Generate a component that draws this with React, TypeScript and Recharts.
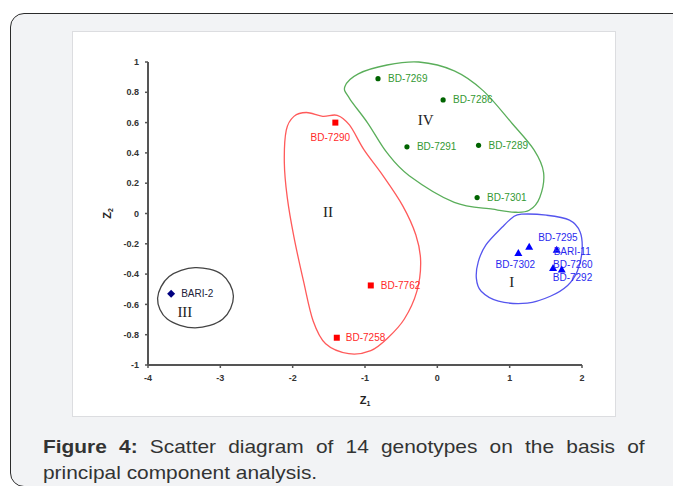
import { ScatterChart, Scatter, XAxis, YAxis } from 'recharts'

// Principal component scores (Z1, Z2) of the 14 genotypes
const cluster1 = [
  { name: 'BD-7302', z1: 1.12, z2: -0.26 },
  { name: 'BD-7295', z1: 1.27, z2: -0.22 },
  { name: 'BARI-11', z1: 1.65, z2: -0.24 },
  { name: 'BD-7260', z1: 1.6, z2: -0.36 },
  { name: 'BD-7292', z1: 1.72, z2: -0.37 },
]
const cluster2 = [
  { name: 'BD-7290', z1: -1.41, z2: 0.6 },
  { name: 'BD-7762', z1: -0.92, z2: -0.475 },
  { name: 'BD-7258', z1: -1.39, z2: -0.82 },
]
const cluster3 = [{ name: 'BARI-2', z1: -3.68, z2: -0.53 }]
const cluster4 = [
  { name: 'BD-7269', z1: -0.82, z2: 0.89 },
  { name: 'BD-7286', z1: 0.08, z2: 0.75 },
  { name: 'BD-7291', z1: -0.42, z2: 0.44 },
  { name: 'BD-7289', z1: 0.57, z2: 0.45 },
  { name: 'BD-7301', z1: 0.55, z2: 0.105 },
]

// cluster numerals
const clusterNames = [
  { name: 'I', z1: 1.03, z2: -0.455 },
  { name: 'II', z1: -1.51, z2: 0.013 },
  { name: 'III', z1: -3.49, z2: -0.647 },
  { name: 'IV', z1: -0.16, z2: 0.614 },
]

// hand drawn cluster outlines, vertices in data units
const outline1 = [
  { z1: 1.378, z2: 0.007 }, { z1: 1.738, z2: 0 }, { z1: 2.069, z2: -0.033 },
  { z1: 2.222, z2: -0.112 }, { z1: 2.249, z2: -0.244 }, { z1: 2.18, z2: -0.376 },
  { z1: 2.042, z2: -0.469 }, { z1: 1.793, z2: -0.541 }, { z1: 1.461, z2: -0.587 },
  { z1: 1.046, z2: -0.574 }, { z1: 0.797, z2: -0.508 }, { z1: 0.728, z2: -0.422 },
  { z1: 0.756, z2: -0.31 }, { z1: 0.866, z2: -0.198 }, { z1: 1.102, z2: -0.079 },
  { z1: 1.254, z2: -0.013 },
]
const outline2 = [
  { z1: -1.899, z2: 0.66 }, { z1: -1.719, z2: 0.686 }, { z1: -1.484, z2: 0.66 },
  { z1: -1.276, z2: 0.667 }, { z1: -1.097, z2: 0.601 }, { z1: -0.889, z2: 0.436 },
  { z1: -0.627, z2: 0.271 }, { z1: -0.336, z2: 0.066 }, { z1: -0.143, z2: -0.132 },
  { z1: -0.074, z2: -0.31 }, { z1: -0.129, z2: -0.508 }, { z1: -0.309, z2: -0.693 },
  { z1: -0.544, z2: -0.818 }, { z1: -0.792, z2: -0.904 }, { z1: -1.11, z2: -0.924 },
  { z1: -1.442, z2: -0.858 }, { z1: -1.622, z2: -0.706 }, { z1: -1.76, z2: -0.442 },
  { z1: -1.899, z2: -0.145 }, { z1: -1.995, z2: 0.119 }, { z1: -2.037, z2: 0.35 },
  { z1: -2.009, z2: 0.568 },
]
const outline3 = [
  { z1: -3.862, z2: -0.554 }, { z1: -3.696, z2: -0.409 }, { z1: -3.323, z2: -0.35 },
  { z1: -2.935, z2: -0.396 }, { z1: -2.77, z2: -0.541 }, { z1: -2.922, z2: -0.693 },
  { z1: -3.323, z2: -0.752 }, { z1: -3.723, z2: -0.693 },
]
const outline4 = [
  { z1: -1.166, z2: 0.858 }, { z1: -0.972, z2: 0.944 }, { z1: -0.557, z2: 1.003 },
  { z1: -0.101, z2: 1.023 }, { z1: 0.41, z2: 0.964 }, { z1: 0.825, z2: 0.832 },
  { z1: 1.24, z2: 0.614 }, { z1: 1.558, z2: 0.436 }, { z1: 1.696, z2: 0.284 },
  { z1: 1.641, z2: 0.119 }, { z1: 1.489, z2: 0.033 }, { z1: 1.281, z2: 0.02 },
  { z1: 0.963, z2: 0.04 }, { z1: 0.41, z2: 0.086 }, { z1: -0.239, z2: 0.264 },
  { z1: -0.557, z2: 0.416 }, { z1: -0.834, z2: 0.614 }, { z1: -1.097, z2: 0.779 },
]

const xTicks = [-4, -3, -2, -1, 0, 1, 2]
const yTicks = [-1, -0.8, -0.6, -0.4, -0.2, 0, 0.2, 0.4, 0.6, 0.8, 1]

// label offsets in px from the marker: [dx, dy, anchor]
const labelPlacement: Record<string, [number, number, string]> = {
  'BARI-2': [10, 0, 'start'],
  'BD-7290': [-5, 15, 'middle'],
  'BD-7762': [10, 0, 'start'],
  'BD-7258': [9, 0, 'start'],
  'BD-7269': [10, 0, 'start'],
  'BD-7286': [10, 0, 'start'],
  'BD-7291': [10, 0, 'start'],
  'BD-7289': [10, 0, 'start'],
  'BD-7301': [10, 0, 'start'],
  'BD-7302': [-3, 12, 'middle'],
  'BD-7295': [9, -9, 'start'],
  'BARI-11': [-3, 2, 'start'],
  'BD-7260': [0, -4, 'start'],
  'BD-7292': [-9, 8, 'start'],
}

const sans = '"Liberation Sans", Arial, sans-serif'
const serif = '"Liberation Serif", "Times New Roman", serif'

// closed catmull-rom curve for the outlines
const closedCurve = (context: any) => {
  let pts: number[][] = []
  return {
    areaStart() {},
    areaEnd() {},
    lineStart() {
      pts = []
    },
    point(x: number, y: number) {
      pts.push([+x, +y])
    },
    lineEnd() {
      const n = pts.length
      if (n < 3) return
      context.moveTo(pts[0][0], pts[0][1])
      for (let i = 0; i < n; i++) {
        const p0 = pts[(i - 1 + n) % n]
        const p1 = pts[i]
        const p2 = pts[(i + 1) % n]
        const p3 = pts[(i + 2) % n]
        context.bezierCurveTo(
          p1[0] + (p2[0] - p0[0]) / 6,
          p1[1] + (p2[1] - p0[1]) / 6,
          p2[0] - (p3[0] - p1[0]) / 6,
          p2[1] - (p3[1] - p1[1]) / 6,
          p2[0],
          p2[1]
        )
      }
      context.closePath()
    },
  }
}

const marker = (kind: string, cx: number, cy: number, color: string) => {
  if (kind === 'diamond')
    return <polygon points={`${cx},${cy - 4} ${cx + 4},${cy} ${cx},${cy + 4} ${cx - 4},${cy}`} fill={color} />
  if (kind === 'square') return <rect x={cx - 3} y={cy - 3} width={6} height={6} fill={color} />
  if (kind === 'triangle')
    return <polygon points={`${cx},${cy - 4} ${cx + 4},${cy + 3} ${cx - 4},${cy + 3}`} fill={color} />
  return <circle cx={cx} cy={cy} r={2.6} fill={color} />
}

const pointShape = (kind: string, color: string, labelColor: string) => (props: any) => {
  const { cx, cy, payload } = props
  const [dx, dy, anchor] = labelPlacement[payload.name] || [10, 0, 'start']
  return (
    <g>
      {marker(kind, cx, cy, color)}
      <text
        x={cx + dx}
        y={cy + dy}
        fill={labelColor}
        fontSize={10}
        fontFamily={sans}
        textAnchor={anchor as any}
        dominantBaseline="central"
      >
        {payload.name}
      </text>
    </g>
  )
}

const numeralShape = (props: any) => (
  <text
    x={props.cx}
    y={props.cy}
    fontSize={15}
    fontFamily={serif}
    fill="#222"
    textAnchor="middle"
    dominantBaseline="central"
  >
    {props.payload.name}
  </text>
)

const noDot = () => <g />

const XTitle = (props: any) => {
  const { viewBox } = props
  const x = viewBox.x + viewBox.width / 2
  const y = viewBox.y + 35
  return (
    <text x={x} y={y} textAnchor="middle" dominantBaseline="central" fontSize={11} fontWeight="bold" fontFamily={sans} fill="#222">
      Z<tspan dy={3} fontSize={7}>1</tspan>
    </text>
  )
}

const YTitle = (props: any) => {
  const { viewBox } = props
  const x = viewBox.x + viewBox.width - 41
  const y = viewBox.y + viewBox.height / 2
  return (
    <text
      x={x}
      y={y}
      transform={`rotate(-90, ${x}, ${y})`}
      textAnchor="middle"
      dominantBaseline="central"
      fontSize={11}
      fontWeight="bold"
      fontFamily={sans}
      fill="#222"
    >
      Z<tspan dy={3} fontSize={7}>2</tspan>
    </text>
  )
}

const tickStyle = { fontSize: 9, fontWeight: 'bold', fontFamily: sans, fill: '#333' }
const outlineDomain: any = [() => -4, () => 2]
const outlineYDomain: any = [() => -1, () => 1]

export default function App() {
  return (
    <div style={{ position: 'fixed', left: 0, top: 0, width: 673, height: 486, background: '#fff', overflow: 'hidden', fontFamily: sans }}>
      <div
        style={{
          position: 'absolute',
          left: 10,
          top: 13,
          width: 680,
          height: 474,
          boxSizing: 'border-box',
          border: '1.5px solid #2b2b2b',
          borderRadius: 14,
          background: '#f2f3f5',
        }}
      />
      <div
        style={{
          position: 'absolute',
          left: 73,
          top: 32,
          width: 542,
          height: 384,
          background: '#fff',
          boxShadow: '0 0 0 1px #dcdde0',
        }}
      >
        <ScatterChart width={542} height={384} margin={{ top: 30, right: 33, bottom: 21, left: 30 }}>
          <XAxis
            type="number"
            dataKey="z1"
            domain={[-4, 2]}
            ticks={xTicks}
            interval={0}
            tickSize={3}
            tickMargin={7}
            height={30}
            tick={tickStyle}
            axisLine={{ stroke: '#555', strokeWidth: 2 }}
            tickLine={{ stroke: '#555', strokeWidth: 1.5 }}
            label={<XTitle />}
          />
          <YAxis
            type="number"
            dataKey="z2"
            domain={[-1, 1]}
            ticks={yTicks}
            interval={0}
            tickSize={3}
            tickMargin={6}
            width={45}
            tick={tickStyle}
            tickFormatter={(v: number) => String(v)}
            axisLine={{ stroke: '#555', strokeWidth: 2 }}
            tickLine={{ stroke: '#555', strokeWidth: 1.5 }}
            label={<YTitle />}
          />
          <XAxis xAxisId="o" type="number" dataKey="z1" domain={outlineDomain} hide />
          <YAxis yAxisId="o" type="number" dataKey="z2" domain={outlineYDomain} hide />

          <Scatter xAxisId="o" yAxisId="o" data={outline4} shape={noDot} line={{ stroke: '#5aae5a', strokeWidth: 1.3 }} lineJointType={closedCurve as any} isAnimationActive={false} />
          <Scatter xAxisId="o" yAxisId="o" data={outline2} shape={noDot} line={{ stroke: '#ff5a5a', strokeWidth: 1.3 }} lineJointType={closedCurve as any} isAnimationActive={false} />
          <Scatter xAxisId="o" yAxisId="o" data={outline1} shape={noDot} line={{ stroke: '#5555ee', strokeWidth: 1.3 }} lineJointType={closedCurve as any} isAnimationActive={false} />
          <Scatter xAxisId="o" yAxisId="o" data={outline3} shape={noDot} line={{ stroke: '#444', strokeWidth: 1.3 }} lineJointType={closedCurve as any} isAnimationActive={false} />

          <Scatter data={clusterNames} shape={numeralShape} isAnimationActive={false} />
          <Scatter data={cluster3} shape={pointShape('diamond', '#000080', '#22223a')} isAnimationActive={false} />
          <Scatter data={cluster2} shape={pointShape('square', '#ff0000', '#ff2a2a')} isAnimationActive={false} />
          <Scatter data={cluster4} shape={pointShape('circle', '#006400', '#339933')} isAnimationActive={false} />
          <Scatter data={cluster1} shape={pointShape('triangle', '#0000ff', '#2a2aee')} isAnimationActive={false} />
        </ScatterChart>
      </div>
      <div
        style={{
          position: 'absolute',
          left: 43,
          top: 434,
          width: 547,
          fontSize: 19,
          lineHeight: '26px',
          color: '#333',
          textAlign: 'justify',
          transform: 'scaleX(1.1)',
          transformOrigin: 'left top',
        }}
      >
        <b>Figure 4:</b> Scatter diagram of 14 genotypes on the basis of principal component analysis.
      </div>
    </div>
  )
}
